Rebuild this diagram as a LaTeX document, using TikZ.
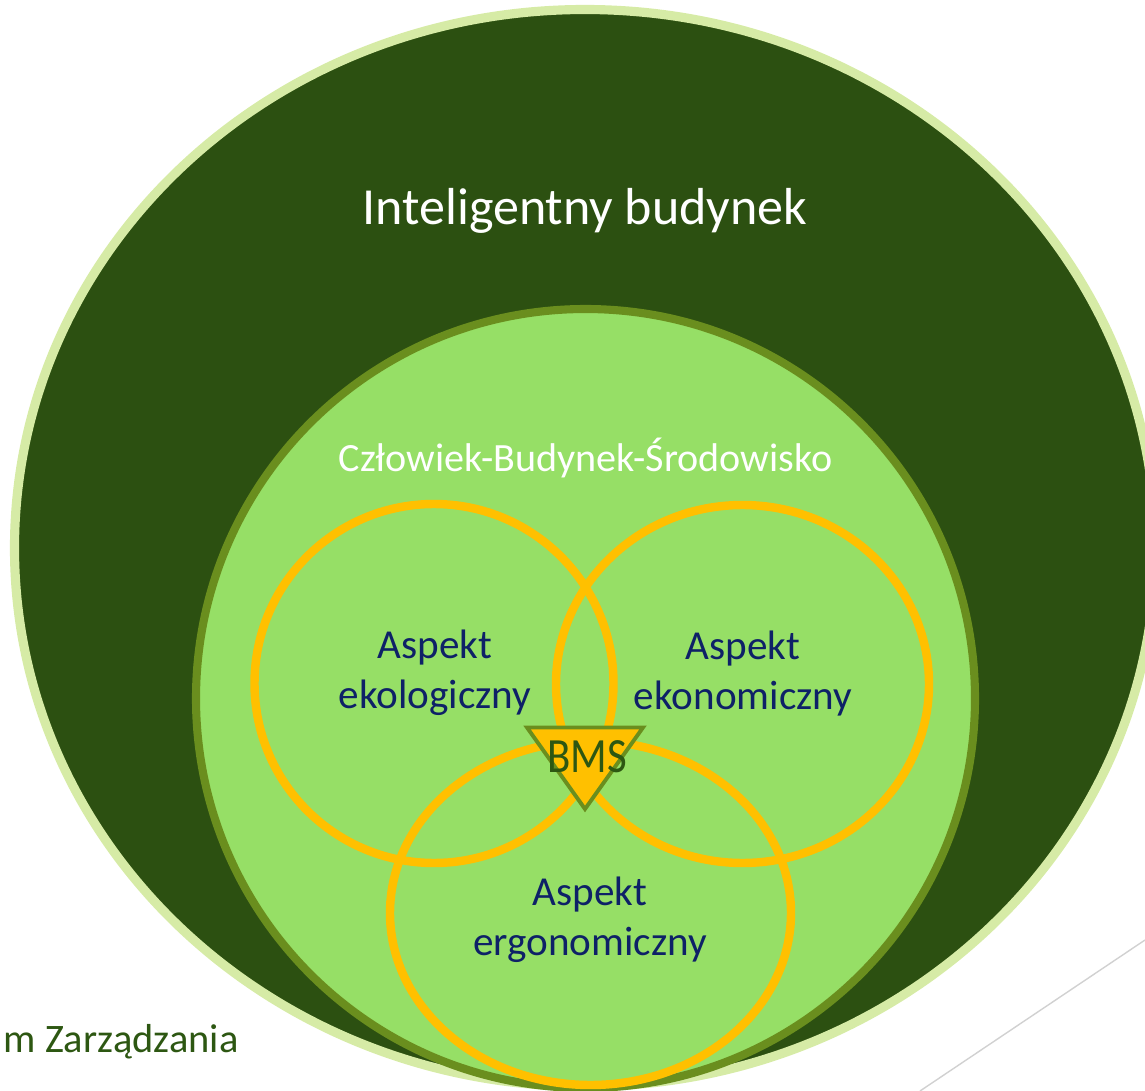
\documentclass[tikz,border=0pt]{standalone}
\usepackage{fontspec}
\setmainfont{Carlito}

\definecolor{leafdark}{HTML}{2C5011}
\definecolor{leafrim}{HTML}{D6EBA6}
\definecolor{leaflight}{HTML}{96DF66}
\definecolor{leafedge}{HTML}{6A8E1E}
\definecolor{ringgold}{HTML}{FFC000}
\definecolor{aspectblue}{HTML}{0E2167}
\definecolor{footgreen}{HTML}{2D5712}

\begin{document}
\begin{tikzpicture}[x=0.01cm, y=-0.01cm,
  every node/.style={inner sep=0pt},
  ring/.style={draw=ringgold, line width=2.4pt},
  aspect/.style={text=aspectblue, align=center, anchor=base,
    font=\fontsize{11.7}{14.2}\selectfont}]
\useasboundingbox (0,0) rectangle (1145,1091);
\clip (0,0) rectangle (1145,1091);

% building shell and the human-building-environment disc
\filldraw[fill=leafdark, draw=leafrim, line width=2.6pt] (585,548) ellipse [x radius=570.5, y radius=538.5];
\filldraw[fill=leaflight, draw=leafedge, line width=2.3pt] (585.5,698.5) circle [radius=389.5];

% the three aspects
\draw[ring] (434,683.5) circle [radius=179.5];
\draw[ring] (742.5,684) ellipse [x radius=186.5, y radius=179];
\draw[ring] (590.5,913) ellipse [x radius=200.5, y radius=172];

\node[text=white, anchor=base, font=\fontsize{14.8}{17}\selectfont] (ib) at (585,225) {Inteligentny budynek};
\node[text=white, anchor=base, font=\fontsize{11.4}{14}\selectfont] (cbs) at (585.5,471) {Człowiek-Budynek-Środowisko};
% base sits on the second line
\node[aspect] (eko) at (435,708) {Aspekt\\ekologiczny};
\node[aspect] (ekon) at (743,709) {Aspekt\\ekonomiczny};
\node[aspect] (ergo) at (590,955) {Aspekt\\ergonomiczny};

% BMS in the middle
\filldraw[fill=ringgold, draw=leafedge, line width=1.1pt] (527,727.5) -- (643,727.5) -- (585,809) -- cycle;
\node[text=footgreen, anchor=base, font=\fontsize{14}{16}\selectfont] (bms) at (587,772) {\scalebox{0.87}[1]{BMS}};

% slide footer
\node[text=footgreen, anchor=base west, font=\fontsize{11.5}{14}\selectfont] (foot) at (3,1052) {m Zarządzania};
\draw[black!18, line width=0.4pt] (920,1091) -- (1145,940);
\end{tikzpicture}
\end{document}
